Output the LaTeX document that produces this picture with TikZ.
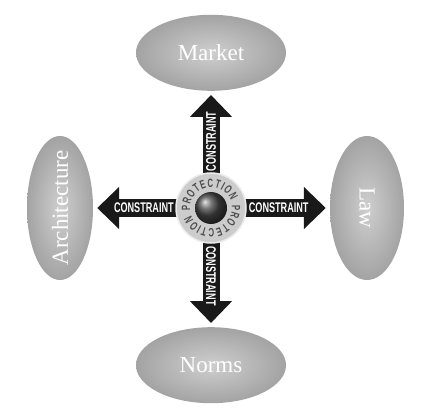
\documentclass[tikz,border=0pt]{standalone}
\usepackage{fontspec}
\setmainfont{Liberation Serif}
\newfontfamily\cfont[FakeStretch=0.65]{Liberation Sans}
\usetikzlibrary{positioning,shapes.geometric,arrows.meta,decorations.text,shadings}
\tikzset{blob/.style = {ellipse,inner sep=0pt,inner color=gray!38,outer color=gray!72,text=white,font=\fontsize{23}{23}\selectfont}}
\tikzset{con/.style = {line width=17pt,black!90,-{Triangle[length=22pt,width=41pt]},shorten >=4pt}}
\tikzset{tag/.style = {text=white,inner sep=0pt,font=\cfont\bfseries\fontsize{14}{14}\selectfont}}

\begin{document}
\begin{tikzpicture}[x=1pt,y=1pt,node distance=117pt]
  \useasboundingbox (0,0) rectangle (425,418);
  \coordinate (hub) at (211,210);
  % the four forces
  \node[blob,minimum width=150pt,minimum height=76pt] (market) [above=of hub] {Market};
  \node[blob,minimum width=150pt,minimum height=76pt] (norms) [below=119pt of hub] {Norms};
  \node[blob,minimum width=144pt,minimum height=66pt,rotate=90] (arch) at (60,210) {\makebox[0pt]{Architecture}};
  \node[blob,minimum width=144pt,minimum height=74pt,rotate=-90] (law) at (367,210) {Law};
  % constraints
  \foreach \t in {market,norms,arch,law}
    \draw[con] (hub) -- (\t) node[pos=0.57,sloped,tag] {CONSTRAINT};
  % centre
  \node[circle,fill=gray!40,draw=gray!15,line width=1.5pt,minimum size=70pt,inner sep=0pt] (ring) at (hub) {};
  \path[decorate,decoration={text along path,text align={fit to path},text color=gray!60!black,
      text={|\cfont\bfseries\fontsize{12}{12}\selectfont|PROTECTION PROTECTION}}]
    (hub) ++(188:21pt) arc[start angle=188,end angle=-160,radius=21pt];
  \node[circle,ball color=gray!55!black,minimum size=32pt,inner sep=0pt] (ball) at (hub) {};
\end{tikzpicture}
\end{document}
